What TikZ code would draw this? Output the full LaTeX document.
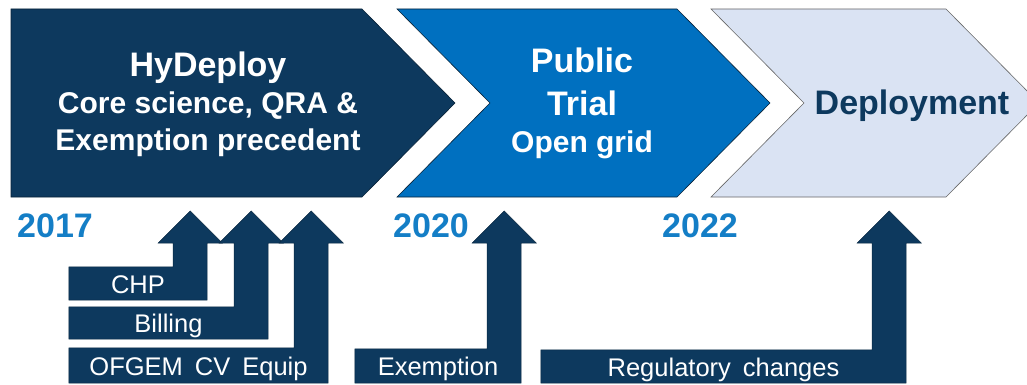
\documentclass[tikz,border=0pt]{standalone}
\usepackage{fontspec}
\setmainfont{Liberation Sans}
\usepackage{tikz}
\usetikzlibrary{backgrounds}

\definecolor{navy}{RGB}{13,57,94}
\definecolor{trialblue}{RGB}{0,112,192}
\definecolor{deploybg}{RGB}{218,227,243}
\definecolor{yearblue}{RGB}{20,126,198}
\newcommand{\widespaces}{\spaceskip=12pt\relax}

\begin{document}
\begin{tikzpicture}[x=1pt, y=-1pt,
    title/.style={anchor=north, align=center, inner sep=0pt, text=white, font=\fontsize{34}{37}\selectfont\bfseries},
    year/.style={anchor=base west, inner sep=0pt, text=yearblue, font=\fontsize{34}{40}\selectfont\bfseries},
    bar/.style={inner sep=0pt, text height=19pt, text depth=0pt, text=white,
      font=\fontsize{25.5}{30}\selectfont\widespaces},
    bentarrow/.style={fill=navy, draw=navy!70!black, line width=0.5pt}]
  \useasboundingbox (0,0) rectangle (1027,385);
  \clip (0,0) rectangle (1027,385);
  % the three stages: left edge / top right corner / notch depth / fill / outline
  \foreach \l/\r/\dent/\col/\edge in {11/362/0/navy/navy!60!black, 397/677/93/trialblue/navy!60!black,
      711/946/93/deploybg/gray!80!black}
    \draw[fill=\col, draw=\edge, line width=0.6pt] (\l,9) -- (\r,9) -- ++(93,94) -- ++(-93,94)
      -- (\l,197) -- ++(\dent,-94) -- cycle;
  \node[title] (hyT) at (208,52) {HyDeploy\\ {\fontsize{30}{37}\selectfont Core science, QRA \&}\\ {\fontsize{30}{37}\selectfont Exemption precedent}};
  \node[title] (ptT) at (582,48) {Public\\[6pt] Trial\\ {\fontsize{30}{37}\selectfont Open grid}};
  \node[anchor=base, inner sep=0pt, text=navy, font=\fontsize{34}{40}\selectfont\bfseries] (dpT) at (912,114) {Deployment};
  % years along the bottom edge
  \node[year] (y17) at (17,237) {2017};
  \node[year] (y20) at (393,237) {2020};
  \node[year] (y22) at (662,237) {2022};
  % enablers: a bar with the label, bent up into an arrow
  \node[bar, minimum width=138pt, minimum height=33pt] (chp) at (138,283.5) {CHP};
  \node[bar, minimum width=199pt, minimum height=32pt] (billing) at (168.5,323) {Billing};
  \node[bar, minimum width=259pt, minimum height=35pt] (ofgem) at (198.5,365.5) {OFGEM CV Equip};
  \node[bar, minimum width=166pt, minimum height=34pt] (exemption) at (438,366) {Exemption};
  \node[bar, minimum width=365pt, minimum height=33pt] (regulatory) at (723.5,366.5) {Regulatory changes};
  \begin{pgfonlayer}{background}
    \foreach \n in {chp,billing,ofgem,exemption,regulatory}
      \draw[bentarrow] (\n.south west) -- (\n.south east) -- (\n.east |- 0,243) -- ++(15,0) -- ++(-32,-32)
        -- ++(-32,32) -- ++(15,0) |- (\n.north) -- (\n.north west) -- cycle;
  \end{pgfonlayer}
\end{tikzpicture}
\end{document}
